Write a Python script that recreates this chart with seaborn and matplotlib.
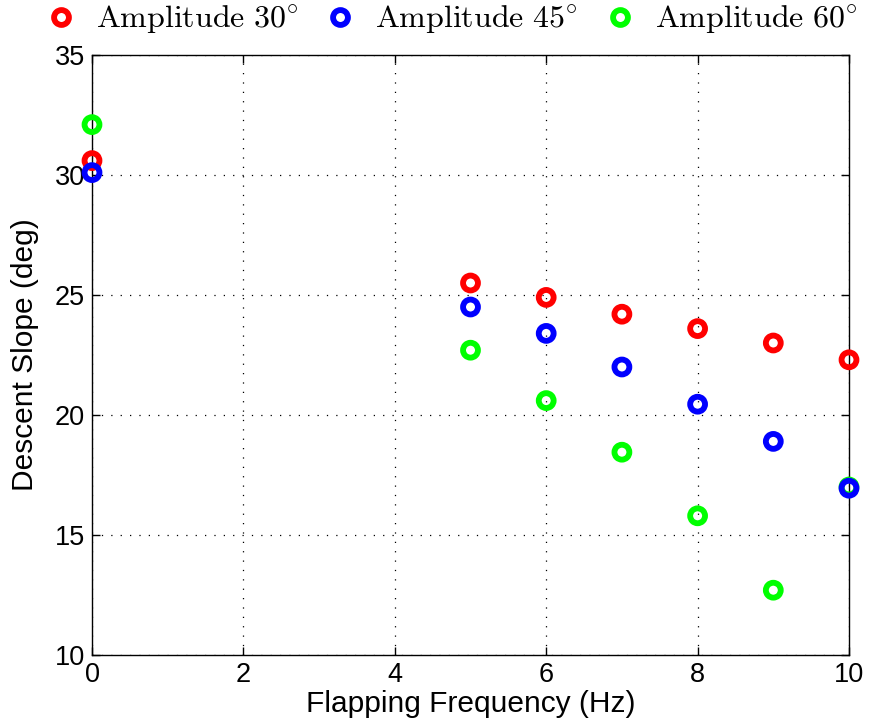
import matplotlib
matplotlib.use("Agg")
import matplotlib.pyplot as plt
from matplotlib.lines import Line2D
import seaborn as sns
import pandas as pd

freq = [0, 5, 6, 7, 8, 9, 10]
amp30 = [30.6, 25.5, 24.9, 24.2, 23.6, 23.0, 22.3]
amp45 = [30.1, 24.5, 23.4, 22.0, 20.45, 18.9, 16.95]
amp60 = [32.1, 22.7, 20.6, 18.45, 15.8, 12.7, 17.0]
series_labels = [r"$\mathrm{Amplitude\ 30^{\circ}}$",
                 r"$\mathrm{Amplitude\ 45^{\circ}}$",
                 r"$\mathrm{Amplitude\ 60^{\circ}}$"]
colors = ["#ff0000", "#0000ff", "#00ff00"]

sns.set_theme(style="white")
plt.rcParams["font.family"] = ["Liberation Sans", "DejaVu Sans"]
plt.rcParams["mathtext.fontset"] = "cm"
plt.rcParams["text.color"] = "black"
plt.rcParams["axes.labelcolor"] = "black"

fig = plt.figure(figsize=(8.76, 7.27), dpi=100)
ax = fig.add_axes([92 / 876, 1 - 655 / 727, (849 - 92) / 876, (655 - 55) / 727])

series = [amp30, amp45, amp60]
draw_order = [0, 2, 1]
for i in draw_order:
    df = pd.DataFrame({"freq": freq, "slope": series[i]})
    sns.scatterplot(data=df, x="freq", y="slope", ax=ax, marker="o", s=115,
                    facecolor="none", edgecolor=colors[i], linewidth=4.2,
                    clip_on=False, zorder=3)

ax.set_xlim(0, 10)
ax.set_ylim(10, 35)
ax.set_xticks(range(0, 11, 2))
ax.set_yticks(range(10, 36, 5))
ax.grid(True, color="black", linestyle=(0, (1, 6.5)), linewidth=0.9)
for sp in ax.spines.values():
    sp.set_color("black")
    sp.set_linewidth(1.0)
    sp.set_visible(True)
ax.tick_params(direction="in", length=6, width=1, labelsize=19.5, colors="black",
               top=True, right=True, bottom=True, left=True, pad=5)
ax.set_xlabel("Flapping Frequency (Hz)", fontsize=21.5, color="black")
ax.set_ylabel("Descent Slope (deg)", fontsize=21.5, color="black")
ax.xaxis.set_label_coords(0.5, -0.058)
ax.yaxis.set_label_coords(-0.070, 0.5)

handles = [Line2D([], [], linestyle="none", marker="o", markersize=10.7,
                  markerfacecolor="none", markeredgecolor=c, markeredgewidth=4.2)
           for c in colors]
fig.legend(handles, series_labels, loc="center", bbox_to_anchor=(0.515, 1 - 20 / 727),
           ncol=3, frameon=False, fontsize=23, handletextpad=0.6, columnspacing=0.8,
           handlelength=1.0, borderpad=0.0, labelcolor="black")

fig.savefig("out.png", dpi=100)
